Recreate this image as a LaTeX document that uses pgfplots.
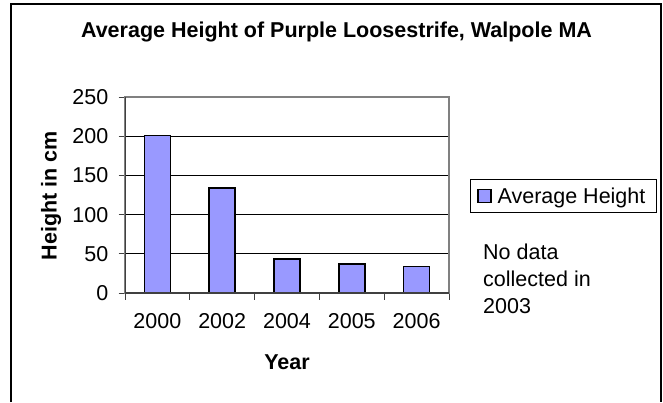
\documentclass[border=0pt]{standalone}
\usepackage{fontspec}
\setmainfont{Liberation Sans}
\usepackage{pgfplots}
\pgfplotsset{compat=1.18}
\definecolor{barfill}{HTML}{9999FF}
\definecolor{framegray}{HTML}{808080}
\definecolor{axisdark}{HTML}{404040}
\newcommand{\chartfont}{\fontsize{21.5}{27}\selectfont}
\begin{document}
\begin{tikzpicture}
\fill[white] (0pt,0pt) rectangle (663pt,402pt);
% chart frame (open at the bottom edge)
\draw[line width=1.2pt] (11pt,0pt) |- (661pt,398pt) -- (661pt,0pt);
% title
\node[anchor=base, inner sep=0pt, font=\bfseries\chartfont] at (336.5pt,364.7pt)
  {Average Height of Purple Loosestrife, Walpole MA};
\begin{axis}[
  at={(125pt,109pt)}, anchor=south west,
  scale only axis, width=324pt, height=196pt,
  ybar, bar width=0.4,
  xmin=-0.5, xmax=4.5, ymin=0, ymax=250,
  xtick={-0.5,0.5,1.5,2.5,3.5,4.5},
  x tick label as interval,
  xticklabels={2000,2002,2004,2005,2006},
  ytick={0,50,100,150,200,250},
  xtick pos=bottom, ytick pos=left,
  ymajorgrids, grid style={black, line width=0.8pt},
  tick align=outside, major tick length=6.5pt,
  tick style={axisdark, line width=0.8pt},
  axis line style={framegray, line width=1.3pt},
  /pgf/number format/assume math mode=true,
  tick label style={font=\chartfont},
  xticklabel style={anchor=base, inner sep=0pt, yshift=-29pt},
  yticklabel style={anchor=east, inner sep=0pt, xshift=-10pt},
  xlabel={Year},
  xlabel style={font=\bfseries\chartfont, at={(axis description cs:0.5,-0.390)}, anchor=base, inner sep=0pt},
  ylabel={Height in cm},
  ylabel style={font=\bfseries\chartfont, at={(axis description cs:-0.2108,0.497)}, anchor=base, inner sep=0pt},
  legend style={at={(axis description cs:1.0648,0.495)}, anchor=west,
    draw=black, line width=0.8pt, font=\chartfont,
    inner xsep=7pt, inner ysep=6pt,
    /tikz/every odd column/.append style={column sep=4pt}},
  legend image code/.code={\draw[#1, line width=1.2pt] (0pt,-6.5pt) rectangle (13pt,6.5pt);},
]
\addplot[fill=barfill, draw=black, line width=1.6pt] coordinates {
  (0,201) (1,134) (2,43) (3,37) (4,34)
};
\addlegendentry{Average Height\hspace*{2pt}}
% darker left and bottom axis lines over the grey plot-area border
\draw[axisdark, line width=1.3pt] (rel axis cs:0,1) -- (rel axis cs:0,0) -- (rel axis cs:1,0);
\end{axis}
% note beside the legend
\node[anchor=north west, align=left, inner sep=0pt, font=\chartfont] at (483pt,158pt)
  {No data\\collected in\\2003};
\pgfresetboundingbox
\useasboundingbox (0pt,0pt) rectangle (663pt,402pt);
\end{tikzpicture}
\end{document}
